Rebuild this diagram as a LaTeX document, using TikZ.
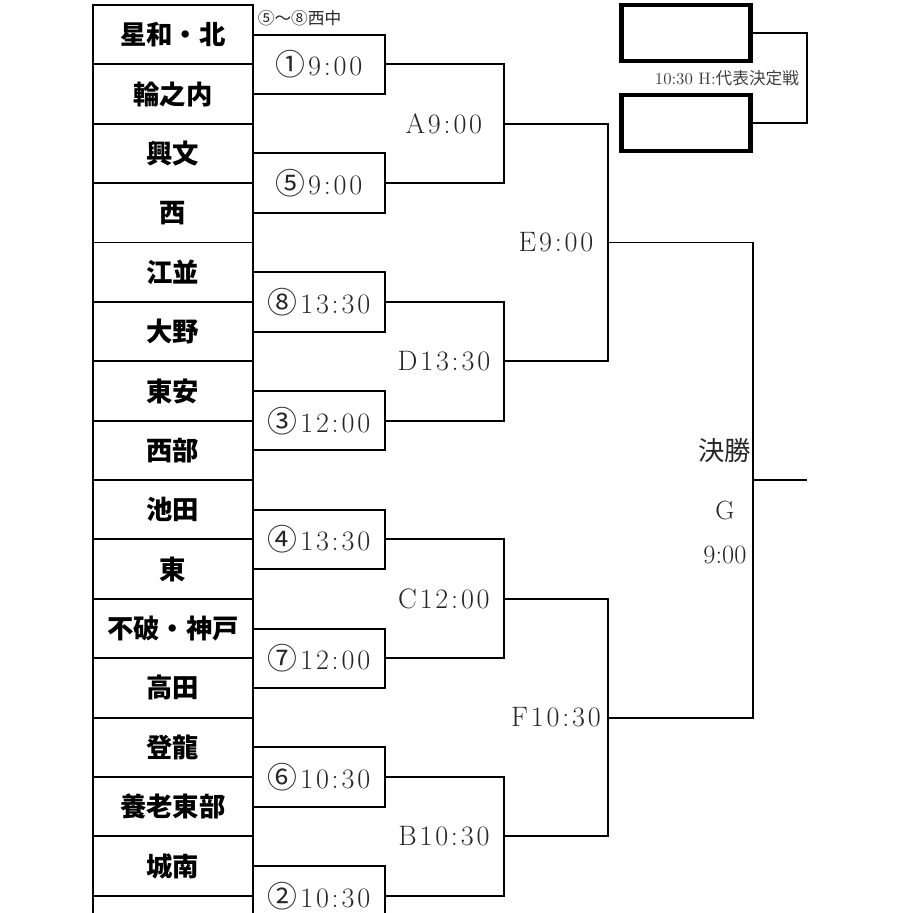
\documentclass[tikz,border=0pt]{standalone}
\usepackage{fontspec}
\newfontfamily\cjk{Noto Sans CJK JP}
\usetikzlibrary{matrix, positioning, calc}
\newcommand{\gp}{\kern.1em}
\newcommand{\cnum}[1]{{\cjk\fontsize{17}{17}\selectfont #1}\gp}

\begin{document}
\begin{tikzpicture}[x=0.02cm, y=0.02cm, line width=1.1pt,
	game/.style={draw, minimum width=2.64cm, minimum height=1.188cm, anchor=west, inner sep=0pt, outer sep=0pt, font=\fontsize{16}{18}\selectfont, text=black!85},
	round/.style={font=\fontsize{16}{18}\selectfont, text=black!85},
	final/.style={font=\fontsize{15}{17}\selectfont, text=black!85},
	spare/.style={draw, line width=2.4pt, minimum width=2.58cm, minimum height=1.12cm}]
\useasboundingbox (0,0) rectangle (913,913);
\clip (0,0) rectangle (913,913);
% teams
\matrix (m) [matrix of nodes, nodes in empty cells, anchor=north west, inner sep=0pt, outer sep=0pt,
	nodes={draw, minimum width=3.2cm, minimum height=1.188cm, anchor=center, font=\cjk\bfseries\fontsize{15}{17}\selectfont},
	column sep=-\pgflinewidth, row sep=-\pgflinewidth] at (92,909) {
	星和・北 \\
	輪之内 \\
	興文 \\
	西 \\
	江並 \\
	大野 \\
	東安 \\
	西部 \\
	池田 \\
	東 \\
	不破・神戸 \\
	高田 \\
	登龍 \\
	養老東部 \\
	城南 \\
	{} \\
};
\node[anchor=west, font=\cjk\fontsize{9.5}{10}\selectfont, text=black!85] (venue) at (251,895) {⑤～⑧西中};

% first round
\node[game] (g1) at ($(m-1-1.east)!.5!(m-2-1.east)$) {\cnum{①}9\gp:\gp0\gp0};
\node[game] (g5) at ($(m-3-1.east)!.5!(m-4-1.east)$) {\cnum{⑤}9\gp:\gp0\gp0};
\node[game] (g8) at ($(m-5-1.east)!.5!(m-6-1.east)$) {\cnum{⑧}1\gp3\gp:\gp3\gp0};
\node[game] (g3) at ($(m-7-1.east)!.5!(m-8-1.east)$) {\cnum{③}1\gp2\gp:\gp0\gp0};
\node[game] (g4) at ($(m-9-1.east)!.5!(m-10-1.east)$) {\cnum{④}1\gp3\gp:\gp3\gp0};
\node[game] (g7) at ($(m-11-1.east)!.5!(m-12-1.east)$) {\cnum{⑦}1\gp2\gp:\gp0\gp0};
\node[game] (g6) at ($(m-13-1.east)!.5!(m-14-1.east)$) {\cnum{⑥}1\gp0\gp:\gp3\gp0};
\node[game] (g2) at ($(m-15-1.east)!.5!(m-16-1.east)$) {\cnum{②}1\gp0\gp:\gp3\gp0};

% second round
\coordinate (A) at ($(g1.east)!.5!(g5.east)+(119,0)$);
\coordinate (D) at ($(g8.east)!.5!(g3.east)+(119,0)$);
\coordinate (C) at ($(g4.east)!.5!(g7.east)+(119,0)$);
\coordinate (B) at ($(g6.east)!.5!(g2.east)+(119,0)$);
\draw (g1.east) -| (A) |- (g5.east);
\draw (g8.east) -| (D) |- (g3.east);
\draw (g4.east) -| (C) |- (g7.east);
\draw (g6.east) -| (B) |- (g2.east);
\node[round] (la) at ($(g1.east)!.5!(g5.east)+(59,0)$) {A\gp9\gp:\gp0\gp0};
\node[round] (ld) at ($(g8.east)!.5!(g3.east)+(59,0)$) {D\gp1\gp3\gp:\gp3\gp0};
\node[round] (lc) at ($(g4.east)!.5!(g7.east)+(59,0)$) {C\gp1\gp2\gp:\gp0\gp0};
\node[round] (lb) at ($(g6.east)!.5!(g2.east)+(59,0)$) {B\gp1\gp0\gp:\gp3\gp0};

% semi finals
\coordinate (E) at ($(A)!.5!(D)+(104,0)$);
\coordinate (F) at ($(C)!.5!(B)+(104,0)$);
\draw (A) -| (E) |- (D);
\draw (C) -| (F) |- (B);
\node[round] (le) at ($(A)!.5!(D)+(52,0)$) {E\gp9\gp:\gp0\gp0};
\node[round] (lf) at ($(C)!.5!(B)+(52,0)$) {F\gp1\gp0\gp:\gp3\gp0};

% final
\coordinate (G) at ($(E)!.5!(F)+(145,0)$);
\coordinate (win) at ($(G)+(54,0)$);
\draw (E) -| (G) |- (F);
\draw (G) -- (win);
\node[final, font=\cjk\fontsize{15}{17}\selectfont] (lk) at ($(G)+(-28,30)$) {決勝};
\node[final] (lg) at ($(G)+(-28,-30)$) {G};
\node[final] (lt) at ($(G)+(-28,-75)$) {9:00};

% representative match
\node[spare] (h1) at (686,880) {};
\node[spare] (h2) at (686,790) {};
\coordinate (H) at ($(h1.east)!.5!(h2.east)+(54,0)$);
\draw (h1.east) -| (H) |- (h2.east);
\node[font=\fontsize{9.5}{10}\selectfont, text=black!75] (lh) at (727,835) {10:30 H:{\cjk 代表決定戦}};
\end{tikzpicture}
\end{document}
